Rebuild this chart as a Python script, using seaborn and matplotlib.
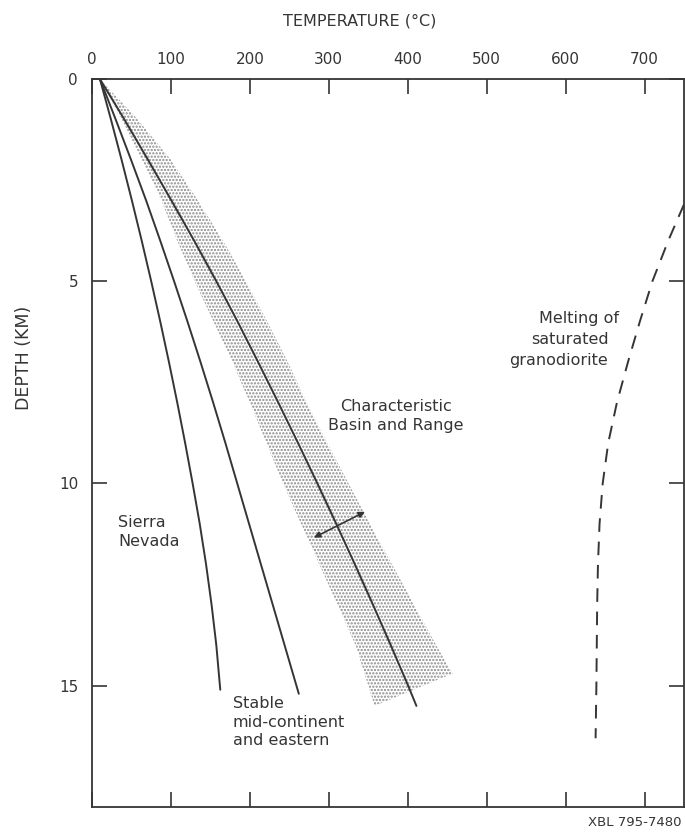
import matplotlib
matplotlib.use("Agg")
import matplotlib.pyplot as plt
import seaborn as sns
import numpy as np

sns.set_style("ticks")
plt.rcParams['font.family'] = ['DejaVu Sans']
plt.rcParams['hatch.linewidth'] = 1.1
ink = "#353535"

# temperature (deg C) against depth (km)
sierra_depth = [0, 1, 2, 3, 4, 5, 6, 7, 8, 9, 10, 11, 12, 13, 14, 15.1]
sierra_temp = [10, 24, 37.5, 50.5, 63, 75, 86.5, 97.5, 108, 118, 127.5, 136.5, 144.5, 151.5, 157.5, 162.5]

stable_depth = [0, 1, 2, 3, 4, 5, 6, 7, 8, 9, 10, 11, 12, 13, 14, 15, 15.2]
stable_temp = [10, 30, 49.5, 68.5, 86.5, 104, 121, 137.5, 153.5, 169, 184, 199, 214, 229, 244, 259, 262]

basin_depth = [0, 1, 2, 3, 4, 5, 6, 7, 8, 9, 10, 11, 12, 13, 14, 15, 15.5]
basin_temp = [10, 41, 71, 100.5, 129.5, 157.5, 184.5, 210.5, 236, 261, 285.5, 309.5, 333, 356, 378.5, 400.5, 411]

# shaded range around the basin and range curve
band_lo_depth = [0, 1, 2, 3, 4, 5, 6, 7, 8, 9, 10, 11, 12, 13, 14, 15.5]
band_lo_temp = [10, 37, 63, 88, 108, 130, 154, 178, 200, 221, 242, 265, 288, 311, 334, 358]
band_hi_depth = [0, 1, 2, 3, 4, 5, 6, 7, 8, 9, 10, 11, 12, 13, 14, 14.7]
band_hi_temp = [10, 58, 100, 134, 166, 195, 222, 248, 272, 298, 325, 352, 380, 408, 436, 457]

# melting of saturated granodiorite
melt_depth = [3.1, 4, 5, 6, 7, 8, 9, 10, 11, 12, 13, 14, 15, 16.3]
melt_temp = [750, 730, 710, 694, 679, 665, 654, 647, 643, 641, 640, 639.5, 639, 638]

# double arrow across the band
arrow_a = (278, 11.37)
arrow_b = (349, 10.67)

xticks = [0, 100, 200, 300, 400, 500, 600, 700]
yticks = [0, 5, 10, 15]

fig = plt.figure(figsize=(6.85, 8.36), dpi=100)
ax = fig.add_axes([92 / 685, 1 - 807 / 836, 592 / 685, 728 / 836])

ax.fill(np.r_[band_lo_temp, band_hi_temp[::-1]], np.r_[band_lo_depth, band_hi_depth[::-1]],
        facecolor="none", edgecolor="#8a8a8a", hatch=".....", linewidth=0)

for t, d in [(sierra_temp, sierra_depth), (stable_temp, stable_depth), (basin_temp, basin_depth)]:
    sns.lineplot(x=t, y=d, sort=False, estimator=None, color=ink, linewidth=1.4, ax=ax)

sns.lineplot(x=melt_temp, y=melt_depth, sort=False, estimator=None, color=ink,
             linewidth=1.4, linestyle=(0, (7, 5)), ax=ax)

ax.annotate("", xy=arrow_a, xytext=arrow_b,
            arrowprops=dict(arrowstyle="<|-|>", color=ink, lw=1.2, mutation_scale=9))

ax.set_xlim(0, 750)
ax.set_ylim(18, 0)
ax.set_xticks(xticks)
ax.set_yticks(yticks)
ax.tick_params(which="both", direction="in", top=True, bottom=True, left=True, right=True,
               labeltop=True, labelbottom=False, labelleft=True, labelright=False,
               length=11, width=1.2, color=ink, labelcolor=ink, labelsize=11)
ax.tick_params(axis="x", pad=9)
ax.tick_params(axis="y", pad=10)
for s in ax.spines.values():
    s.set_color(ink)
    s.set_linewidth(1.3)
ax.set_xlabel("")
ax.set_ylabel("")

tkw = dict(color=ink, fontsize=11.5)
ax.text(33, 11.2, "Sierra\nNevada", ha="left", va="center", linespacing=1.4, **tkw)
ax.text(178, 15.9, "Stable\nmid-continent\nand eastern", ha="left", va="center", linespacing=1.3, **tkw)
ax.text(385, 8.33, "Characteristic\nBasin and Range", ha="center", va="center", linespacing=1.3, **tkw)
ax.text(617, 5.91, "Melting of", ha="center", va="center", **tkw)
ax.text(606, 6.43, "saturated", ha="center", va="center", **tkw)
ax.text(591, 6.95, "granodiorite", ha="center", va="center", **tkw)

fig.text(360 / 685, 1 - 21 / 836, "TEMPERATURE (\u00b0C)", ha="center", va="center", color=ink, fontsize=11.5)
fig.text(24 / 685, 1 - 358 / 836, "DEPTH (KM)", ha="center", va="center", rotation=90, color=ink, fontsize=12.5)
fig.text(682 / 685, 1 - 822 / 836, "XBL 795-7480", ha="right", va="center", color=ink, fontsize=9.5)

fig.savefig("out.png", dpi=100)
